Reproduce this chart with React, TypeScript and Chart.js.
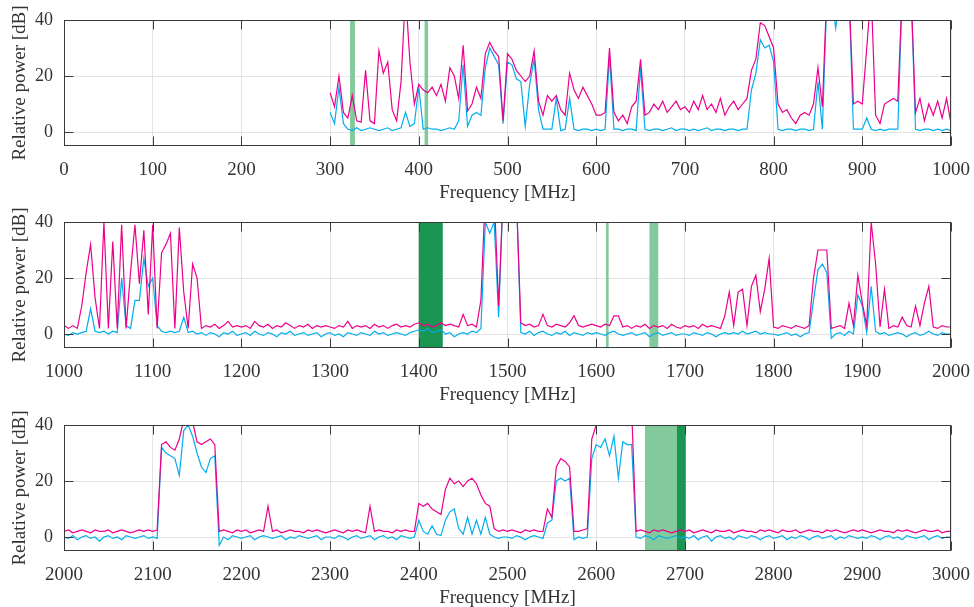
import React, { useEffect, useRef } from 'react';
import { Chart, registerables } from 'chart.js';

Chart.register(...registerables);

// ---------- data (5 MHz grid) ----------
const STEP_MHZ = 5;

// Panel 1: 300 .. 1000 MHz
const P1_START = 300;
const P1_MAG = [
  14, 9, 20, 7, 5, 13, 4, 3.5, 22, 4, 3, 29, 21, 25, 8, 4, 18, 50, 25, 10,
  17, 15, 14, 16, 13, 17, 11, 23, 20, 12, 31, 7.5, 10, 16, 12, 28, 32, 29, 27, 4,
  28, 26, 22, 20, 18, 20, 29, 11, 6, 13, 11, 13, 8, 6, 21, 15, 12, 16, 13, 10,
  6, 6, 7, 30, 7, 4, 6, 3, 9, 11, 26, 6, 7, 10, 8, 11, 7, 9, 11, 8,
  9, 7, 11, 8, 13, 8, 10, 7, 12, 6, 9, 11, 8, 10, 12, 22, 26, 39, 38, 34,
  30, 10, 7, 8, 5, 3, 6, 7, 6, 10, 23, 9, 50, 50, 50, 50, 50, 50, 10, 11,
  10, 30, 50, 6, 3, 10, 11, 12, 11, 50, 50, 50, 7, 12, 4, 10, 6, 11, 5, 12,
  3,
];
const P1_BLUE = [
  7, 3, 16, 3, 1, 0.5, 1.5, 0.5, 1, 1.5, 1, 0.5, 1, 1.5, 0.5, 1, 1.5, 7, 2, 3,
  16, 1, 1.5, 1, 1, 0.5, 1, 1.5, 1, 4, 24, 2, 6, 7, 6, 23, 30, 27, 24, 3,
  25, 24, 19, 18, 2, 17, 26, 8, 1, 1, 1, 12, 0.5, 1, 12, 1, 0.5, 1, 1, 0.5,
  1, 0.5, 1, 27, 1, 1, 0.5, 1, 1, 0.5, 23, 1, 0.5, 1, 1, 0.5, 1, 1.5, 0.5, 1,
  1, 0.5, 1, 0.5, 1, 1.5, 0.5, 1, 1, 0.5, 1, 1, 0.5, 1, 1, 15, 21, 33, 30, 31,
  25, 1, 0.5, 1, 1, 0.5, 1, 1, 0.5, 1, 18, 1, 48, 50, 37, 50, 50, 50, 1, 1,
  1, 5, 1, 0.5, 1, 0.5, 1, 1, 1, 50, 50, 50, 1, 0.5, 1, 1, 0.5, 1, 0.5, 1,
  0.5,
];

// Panel 2: 1000 .. 2000 MHz
const P2_START = 1000;
const P2_MAG = [
  3, 2, 3, 2, 10, 22, 32, 13, 2, 40, 2, 33, 2, 39, 2, 22, 39, 18, 37, 7,
  39, 2, 29, 32, 36, 2, 38, 15, 2, 25, 20, 2, 3, 2.5, 3.5, 2, 3, 4.5, 2.5, 3,
  2.5, 3, 2, 4.5, 3, 2.5, 3.5, 2, 3, 2.5, 4, 3, 2, 3, 2.5, 3.5, 2, 3, 2.5, 3,
  2.5, 2, 3, 2.5, 4.5, 2, 3, 2.5, 3, 2, 3.5, 2.5, 3, 2, 3, 3.5, 2.5, 3, 2.5, 3.5,
  4, 3, 3.5, 2.5, 3, 4, 3, 3.5, 3, 2.5, 7, 3, 3.5, 2.5, 12, 50, 50, 50, 10, 50,
  50, 50, 50, 4, 3, 3.5, 2.5, 3, 7, 3, 2.5, 3.5, 3, 2.5, 4, 6.5, 3, 2.5, 3, 3.5,
  3, 2.5, 3.5, 3, 6.5, 6.5, 2.5, 3, 2, 3, 2.5, 3.5, 2, 3, 2.5, 3, 2, 3.5, 2.5, 2,
  3, 2.5, 3, 2, 3.5, 2.5, 3, 2.5, 2, 6.5, 15, 3, 15, 16, 3, 17, 21, 8, 16, 27,
  2.5, 2, 3, 2.5, 2, 3, 2.5, 2, 3, 20, 30, 30, 30, 2, 2.5, 3, 2, 11, 3, 21,
  11, 3, 40, 25, 2.5, 16, 2, 3, 2.5, 6, 3, 2.5, 10, 3, 11, 17, 2.5, 2, 3, 2.5,
  2.5,
];
const P2_BLUE = [
  0, -0.5, 0.5, 0, 0.5, 1, 9, 1, 0.5, 1, 0, 1, 0.5, 20, 3, 2, 12, 12, 27, 17,
  20, 3, 1, 0.5, 1, 0.5, 1, 6, 0.5, 1, 0, 0.5, -0.5, 0.5, 0, -1, 0.5, 0, 1, -0.5,
  0, 0.5, -0.5, 1, 0, -0.5, 0.5, 0, -1, 0.5, 0, 1, -0.5, 0, 0.5, -0.5, 0, 0.5, -1, 0,
  0.5, -0.5, 0, -1, 0.5, 0, -0.5, 0.5, 0, -0.5, 1, 0, 0.5, -0.5, 0, 0.5, 0, -0.5, 0.5, 1,
  1.5, 1, 2, 0.5, 1, 1.5, 0, 0.5, -1, 0, 0.5, 0, 1, 0.5, 2, 40, 36, 40, 6, 50,
  50, 42, 50, 0.5, 0, 1, -0.5, 0.5, 1, 0, -0.5, 0.5, 0, 1, -0.5, 0.5, 0, -0.5, 0.5, 0,
  0.5, 0, -0.5, 0.5, 1, 0, -0.5, 0, 0.5, -0.5, 0, 0.5, -1, 0, 0.5, -0.5, 0, 0.5, -0.5, 0,
  0, -0.5, 0.5, 0, -0.5, 0.5, 0, -1, 0, 0.5, 0, 0.5, 0, 1, 0, 0.5, 1, 0, 0.5, 0,
  0, -0.5, 0, 0.5, -0.5, 0, -1, 0, 0.5, 12, 23, 25, 22, -1.5, 0, 0.5, -0.5, 1, 0, 14,
  10, 0.5, 17, 1, 0, 0.5, -0.5, 0, 0.5, 0, -1, 0, 0.5, -0.5, 0, 1, 0, -0.5, 0.5, 0,
  0,
];

// Panel 3: 2000 .. 3000 MHz
const P3_START = 2000;
const P3_MAG = [
  2, 2.5, 1.5, 2, 2.5, 2, 1.5, 2.5, 2, 2, 2.5, 1.5, 2, 2.5, 2, 1.5, 2, 2.5, 2, 2.5,
  2, 2.5, 33, 34, 32, 31, 35, 42, 45, 41, 34, 33, 34, 35, 33, 2, 2.5, 2, 1.5, 2.5,
  2, 2.5, 1.5, 2, 2.5, 2, 11, 2, 2.5, 1.5, 2, 2.5, 2, 2, 1.5, 2.5, 2, 2.5, 2, 1.5,
  2, 2.5, 2, 1.5, 2.5, 2, 2.5, 2, 1.5, 11, 2, 2.5, 2, 2, 1.5, 2.5, 2, 2.5, 2, 2,
  12, 11, 12, 10, 9, 8, 17, 21, 19, 20, 18, 20, 21, 19, 15, 12, 11, 3, 2, 2.5,
  2, 2.5, 2, 1.5, 2.5, 2, 2.5, 2, 2, 10, 7, 25, 28, 27, 25, 2, 2, 2.5, 3, 35,
  40, 42, 45, 40, 42, 45, 45, 40, 45, 2, 2.5, 2, 1.5, 2.5, 2, 2.5, 2, 1.5, 2, 2.5,
  2, 2.5, 1.5, 2, 2.5, 2, 1.5, 2.5, 2, 2, 2.5, 1.5, 2, 2.5, 2, 2, 1.5, 2.5, 2, 2.5,
  2, 1.5, 2.5, 2, 2, 2.5, 1.5, 2, 2.5, 2, 2, 1.5, 2.5, 2, 2.5, 2, 1.5, 2, 2.5, 2,
  2.5, 2, 1.5, 2, 2.5, 2, 2, 1.5, 2.5, 2, 2.5, 2, 1.5, 2, 2.5, 2, 2, 2.5, 1.5, 2,
  2,
];
const P3_BLUE = [
  0, -0.5, 0.5, -1, 0, 0.5, -0.5, 0, -1.5, 0, 0.5, -0.5, 0, -1, 0.5, 0, -0.5, 0, 0.5, -0.5,
  0, -0.5, 32, 30, 29, 28, 22, 38, 40, 36, 30, 25, 23, 28, 29, -3, 0, -1, 0.5, 0,
  -0.5, 0, 0.5, -1, 0, 0.5, 0, -0.5, 0, 0.5, -1, 0, -0.5, 0.5, 0, -0.5, 0, 0.5, -1, 0,
  0, -0.5, 0.5, 0, -1, 0, 0.5, -0.5, 0, 0.5, -1, 0, 0.5, -0.5, 0, -1, 0.5, 0, -0.5, 0,
  6, 2, 1, 4, 1, 0.5, 6, 9, 10, 3, 1, 7, 1, 6, 1, 7, 1, 0, -0.5, 0,
  0, -0.5, 0.5, 0, -1, 0, 0.5, 0, -0.5, 5, 6, 20, 21, 20, 21, -1, 0, -0.5, 0, 28,
  33, 32, 35, 29, 36, 21, 34, 33, 33, 0, -0.5, 0.5, 0, -1, 0.5, 0, -0.5, 0, 0.5, -0.5,
  0, -0.5, 0.5, -1, 0, 0.5, -1.5, 0, 0.5, -0.5, 0, -1, 0.5, 0, -0.5, 0.5, 0, -1, 0, 0.5,
  -0.5, 0, 0.5, -1, 0, -0.5, 0.5, 0, -1, 0, 0.5, -0.5, 0, 0.5, -1, 0, -0.5, 0.5, 0, -0.5,
  0, -0.5, 0.5, 0, -1, 0, 0.5, -0.5, 0, -1, 0.5, 0, -0.5, 0, 0.5, -1, 0, 0.5, -0.5, 0,
  0,
];

// shaded bands [from MHz, to MHz, kind]
const P1_BANDS: [number, number, string][] = [
  [322.5, 328, 'light'],
  [406.5, 410.5, 'light'],
];
const P2_BANDS: [number, number, string][] = [
  [1400, 1427, 'dark'],
  [1611, 1614, 'light'],
  [1660, 1670, 'light'],
];
const P3_BANDS: [number, number, string][] = [
  [2655, 2691, 'light'],
  [2691, 2701, 'dark'],
];

const Y_TICKS = [0, 20, 40];

// ---------- styles ----------
const MAGENTA = '#EC008C';
const CYAN = '#00AEEF';
const LIGHT_GREEN = '#82C99B';
const DARK_GREEN = '#1A9552';
const GRID = '#e4e4e4';
const AXIS = '#3a3a3a';
const TEXT = '#333333';
const FONT = "'Liberation Serif', 'Times New Roman', serif";

const W = 974;
const H = 212;
const PLOT_TOP = 20;
const PLOT_H = 126;

function makeBandsPlugin(bands: [number, number, string][]) {
  return {
    id: 'bands',
    beforeDatasetsDraw(chart: any) {
      const { ctx, chartArea, scales } = chart;
      ctx.save();
      ctx.beginPath();
      ctx.rect(chartArea.left, chartArea.top, chartArea.right - chartArea.left, chartArea.bottom - chartArea.top);
      ctx.clip();
      for (const [a, b, kind] of bands) {
        const x0 = scales.x.getPixelForValue(a);
        const x1 = scales.x.getPixelForValue(b);
        ctx.fillStyle = kind === 'dark' ? DARK_GREEN : LIGHT_GREEN;
        ctx.fillRect(x0, chartArea.top, x1 - x0, chartArea.bottom - chartArea.top);
      }
      ctx.restore();
    },
  };
}

const boxPlugin = {
  id: 'box',
  afterDatasetsDraw(chart: any) {
    const { ctx, chartArea, scales } = chart;
    const L = Math.round(chartArea.left) + 0.5;
    const R = Math.round(chartArea.right) - 0.5;
    const T = Math.round(chartArea.top) + 0.5;
    const B = Math.round(chartArea.bottom) - 0.5;
    const TL = 9;
    ctx.save();
    ctx.strokeStyle = AXIS;
    ctx.lineWidth = 1;
    ctx.beginPath();
    for (const t of scales.x.ticks) {
      const px = Math.round(scales.x.getPixelForValue(t.value)) + 0.5;
      ctx.moveTo(px, B);
      ctx.lineTo(px, B - TL);
      ctx.moveTo(px, T);
      ctx.lineTo(px, T + TL);
    }
    for (const t of scales.y.ticks) {
      const py = Math.round(scales.y.getPixelForValue(t.value)) + 0.5;
      ctx.moveTo(L, py);
      ctx.lineTo(L + TL, py);
      ctx.moveTo(R, py);
      ctx.lineTo(R - TL, py);
    }
    ctx.stroke();
    ctx.strokeRect(L, T, R - L, B - T);
    ctx.restore();
  },
};

type PanelProps = {
  top: number;
  xMin: number;
  xMax: number;
  start: number;
  mag: number[];
  blue: number[];
  bands: [number, number, string][];
};

function Panel({ top, xMin, xMax, start, mag, blue, bands }: PanelProps) {
  const ref = useRef<HTMLCanvasElement | null>(null);
  useEffect(() => {
    if (!ref.current) return;
    const toPts = (arr: number[]) => arr.map((y, i) => ({ x: start + i * STEP_MHZ, y }));
    const chart = new Chart(ref.current, {
      type: 'line',
      data: {
        datasets: [
          {
            data: toPts(mag),
            borderColor: MAGENTA,
            borderWidth: 1.2,
            pointRadius: 0,
            fill: false,
            tension: 0,
          },
          {
            data: toPts(blue),
            borderColor: CYAN,
            borderWidth: 1.2,
            pointRadius: 0,
            fill: false,
            tension: 0,
          },
        ],
      },
      options: {
        animation: false,
        responsive: false,
        maintainAspectRatio: false,
        events: [],
        layout: { padding: { left: 0, right: 23, top: PLOT_TOP, bottom: 0 } },
        plugins: { legend: { display: false }, tooltip: { enabled: false } },
        scales: {
          x: {
            type: 'linear',
            min: xMin,
            max: xMax,
            ticks: {
              stepSize: 100,
              autoSkip: false,
              maxRotation: 0,
              padding: 13,
              color: TEXT,
              font: { family: FONT, size: 19 },
              callback: (v: any) => String(v),
            },
            grid: { color: GRID, drawTicks: false, lineWidth: 1 },
            border: { display: false },
            title: {
              display: true,
              text: 'Frequency [MHz]',
              color: TEXT,
              font: { family: FONT, size: 19 },
              padding: { top: 0, bottom: 8 },
            },
            afterFit: (s: any) => {
              s.height = H - PLOT_TOP - PLOT_H;
              s.paddingLeft = 0;
              s.paddingRight = 0;
            },
          },
          y: {
            type: 'linear',
            min: -5,
            max: 40,
            afterBuildTicks: (s: any) => {
              s.ticks = Y_TICKS.map((v) => ({ value: v }));
            },
            ticks: {
              padding: 11,
              color: TEXT,
              font: { family: FONT, size: 18 },
              callback: (v: any) => String(v),
            },
            grid: { color: GRID, drawTicks: false, lineWidth: 1 },
            border: { display: false },
            title: {
              display: true,
              text: 'Relative power [dB]',
              color: TEXT,
              font: { family: FONT, size: 19 },
              padding: { top: 9, bottom: 0 },
            },
            afterFit: (s: any) => {
              s.width = 64;
              s.paddingTop = 0;
              s.paddingBottom = 0;
            },
          },
        },
      } as any,
      plugins: [makeBandsPlugin(bands), boxPlugin],
    });
    return () => chart.destroy();
  }, []);
  return (
    <canvas
      ref={ref}
      width={W}
      height={H}
      style={{ position: 'absolute', left: 0, top, width: W, height: H, display: 'block' }}
    />
  );
}

export default function App() {
  return (
    <div style={{ position: 'absolute', left: 0, top: 0, width: W, height: 607, background: '#fff', overflow: 'hidden' }}>
      <Panel top={0} xMin={0} xMax={1000} start={P1_START} mag={P1_MAG} blue={P1_BLUE} bands={P1_BANDS} />
      <Panel top={202} xMin={1000} xMax={2000} start={P2_START} mag={P2_MAG} blue={P2_BLUE} bands={P2_BANDS} />
      <Panel top={405} xMin={2000} xMax={3000} start={P3_START} mag={P3_MAG} blue={P3_BLUE} bands={P3_BANDS} />
    </div>
  );
}
